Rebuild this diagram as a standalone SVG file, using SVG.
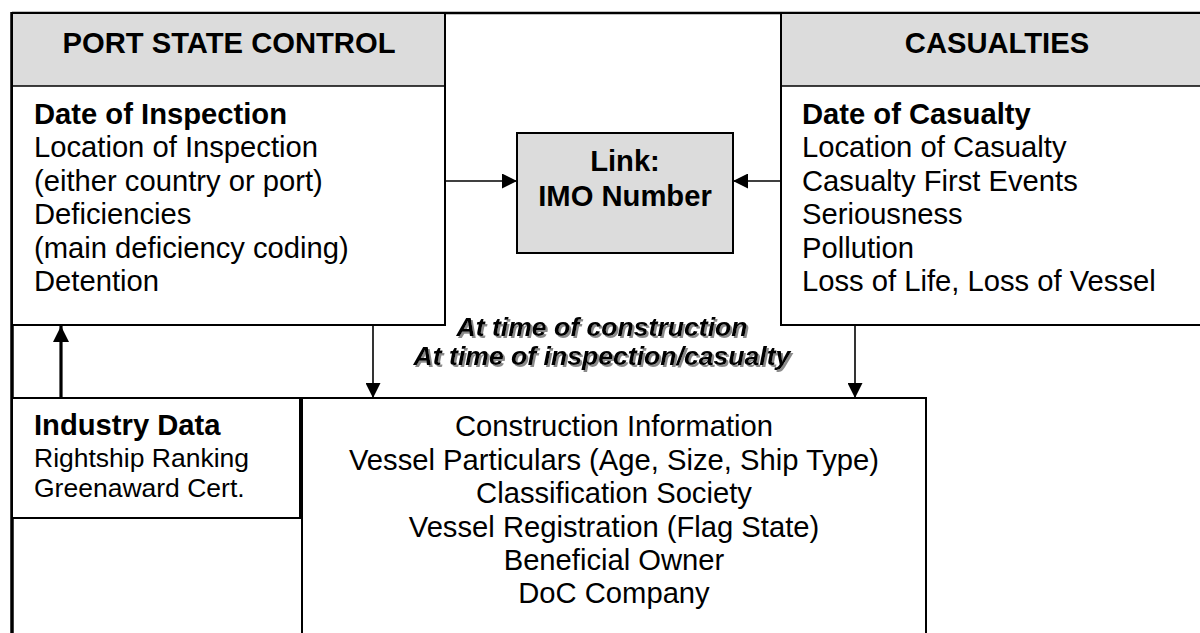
<svg xmlns="http://www.w3.org/2000/svg" width="1200" height="633" viewBox="0 0 1200 633">
<style>
text{font-family:"Liberation Sans",Arial,sans-serif;fill:#000}
.b{font-weight:bold}
.t{font-size:29.2px}
.s{font-size:26.5px}
.c{text-anchor:middle}
.bi{font-weight:bold;font-style:italic;font-size:26.6px}
.box{fill:#fff;stroke:#000;stroke-width:2}
.hdr{fill:#dcdcdc}
.ln{stroke:#000;stroke-width:1.6;fill:none}
</style>
<defs>
<marker id="ah" viewBox="0 0 10 10" refX="10" refY="5" markerWidth="15" markerHeight="15" markerUnits="userSpaceOnUse" orient="auto">
<path d="M0,0 L10,5 L0,10 z" fill="#000"/>
</marker>
<marker id="ahb" viewBox="0 0 10 10" refX="10" refY="5" markerWidth="16" markerHeight="16" markerUnits="userSpaceOnUse" orient="auto">
<path d="M0,0 L10,5 L0,10 z" fill="#000"/>
</marker>
<filter id="shadow" x="-5%" y="-20%" width="110%" height="140%">
<feDropShadow dx="2" dy="2" stdDeviation="0.6" flood-color="#8a8a8a" flood-opacity="1"/>
</filter>
</defs>
<rect width="1200" height="633" fill="#fff"/>
<g id="frame">
<line x1="12" y1="13" x2="1200" y2="13" stroke="#000" stroke-width="2.5"/>
<line x1="12" y1="12" x2="12" y2="633" stroke="#000" stroke-width="3.5"/>
</g>
<g id="psc">
<rect class="box" x="12" y="13" width="433" height="312"/>
<rect class="hdr" x="13" y="14" width="431" height="72"/>
<line class="ln" x1="12" y1="86" x2="445" y2="86" stroke-width="2"/>
<text class="b t c" x="229" y="53">PORT STATE CONTROL</text>
<text class="t" x="34" y="124"><tspan class="b">Date of Inspection</tspan><tspan x="34" dy="33.4">Location of Inspection</tspan><tspan x="34" dy="33.4">(either country or port)</tspan><tspan x="34" dy="33.4">Deficiencies</tspan><tspan x="34" dy="33.4">(main deficiency coding)</tspan><tspan x="34" dy="33.4">Detention</tspan></text>
</g>
<g id="casualties">
<rect class="box" x="781" y="13" width="440" height="312"/>
<rect class="hdr" x="782" y="14" width="430" height="72"/>
<line class="ln" x1="781" y1="86" x2="1200" y2="86" stroke-width="2"/>
<text class="b t c" x="997" y="53">CASUALTIES</text>
<text class="t" x="802" y="124"><tspan class="b">Date of Casualty</tspan><tspan x="802" dy="33.4">Location of Casualty</tspan><tspan x="802" dy="33.4">Casualty First Events</tspan><tspan x="802" dy="33.4">Seriousness</tspan><tspan x="802" dy="33.4">Pollution</tspan><tspan x="802" dy="33.4">Loss of Life, Loss of Vessel</tspan></text>
</g>
<g id="link">
<rect x="517" y="133" width="216" height="120" fill="#dcdcdc" stroke="#000" stroke-width="2"/>
<text class="b t c" x="625" y="171">Link:</text>
<text class="b t c" x="625" y="206">IMO Number</text>
</g>
<g id="industry">
<rect class="box" x="12" y="398" width="288" height="120"/>
<text class="b t" x="34" y="435">Industry Data</text>
<text class="s" x="34" y="467">Rightship Ranking</text>
<text class="s" x="34" y="497">Greenaward Cert.</text>
</g>
<g id="construction">
<rect class="box" x="302" y="398" width="624" height="250"/>
<text class="t c" x="614" y="436">Construction Information</text>
<text class="t c" x="614" y="470">Vessel Particulars (Age, Size, Ship Type)</text>
<text class="t c" x="614" y="503">Classification Society</text>
<text class="t c" x="614" y="537">Vessel Registration (Flag State)</text>
<text class="t c" x="614" y="570">Beneficial Owner</text>
<text class="t c" x="614" y="603">DoC Company</text>
</g>
<g id="timing-label" filter="url(#shadow)">
<text class="bi c" x="602" y="336">At time of construction</text>
<text class="bi c" x="602" y="365">At time of inspection/casualty</text>
</g>
<g id="connectors">
<line class="ln" x1="445" y1="181" x2="517" y2="181" marker-end="url(#ah)"/>
<line class="ln" x1="781" y1="181" x2="733" y2="181" marker-end="url(#ah)"/>
<line class="ln" x1="373" y1="325" x2="373" y2="398" marker-end="url(#ah)"/>
<line class="ln" x1="855" y1="325" x2="855" y2="398" marker-end="url(#ah)"/>
<line x1="61" y1="398" x2="61" y2="326" stroke="#000" stroke-width="3.2" marker-end="url(#ahb)"/>
</g>
</svg>
